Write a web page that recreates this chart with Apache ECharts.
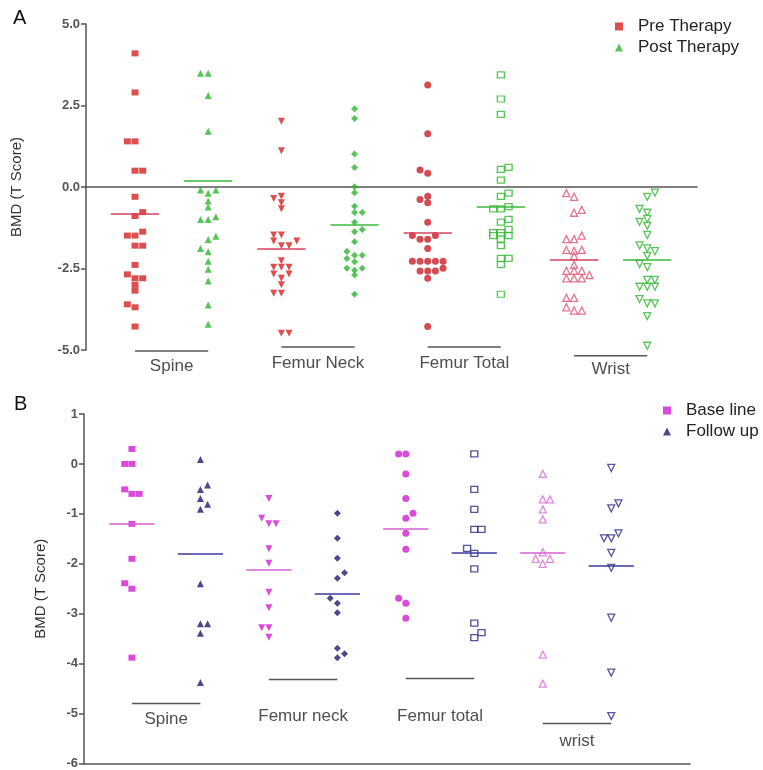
<!DOCTYPE html>
<html><head><meta charset="utf-8">
<script src="https://cdn.jsdelivr.net/npm/echarts/dist/echarts.min.js"></script>
<style>html,body{margin:0;padding:0;background:#fff}#c{width:763px;height:770px}</style>
</head><body><div id="c"></div>
<script>
// ---------- DATA ----------
const groupsA = ['Spine', 'Femur Neck', 'Femur Total', 'Wrist'];
const groupsB = ['Spine', 'Femur neck', 'Femur total', 'wrist'];
const namesA = ['Pre Therapy', 'Post Therapy'];
const namesB = ['Base line', 'Follow up'];

// Panel A values (T score) and horizontal slot of each dot (jitter)
const aSpinePre   = [4.1,2.9,1.4,1.4,0.5,0.5,-0.3,-0.89,-0.77,-1.49,-1.49,-1.37,-1.8,-1.8,-2.39,-2.68,-2.8,-2.8,-3.0,-3.18,-3.6,-3.69,-4.28];
const aSpinePreJ  = [0,0,-1,0,0,1,0,0,1,-1,0,1,0,1,0,-1,0,1,0,0,-1,0,0];
const aSpinePost  = [3.49,3.49,2.81,1.71,-0.09,-0.19,-0.09,-0.43,-0.61,-1.0,-1.0,-0.91,-1.61,-1.51,-1.89,-1.99,-2.28,-2.52,-2.88,-3.62,-4.21];
const aSpinePostJ = [-1,0,0,0,-1,0,1,0,0,-1,0,1,0,1,-1,0,0,0,0,0,0];
const aNeckPre    = [2.02,1.11,-0.35,-0.28,-0.48,-0.67,-1.47,-1.47,-1.66,-1.8,-1.8,-1.66,-2.26,-2.46,-2.46,-2.46,-2.67,-2.8,-2.67,-3.0,-3.26,-3.26,-4.49,-4.49];
const aNeckPreJ   = [0,0,-1,0,0,0,-1,0,-1,0,1,2,0,-1,0,1,-1,0,1,0,-1,0,0,1];
const aNeckPost   = [2.4,2.1,1.01,0.6,0.01,-0.18,-0.59,-0.78,-0.78,-1.08,-1.37,-1.3,-1.68,-1.98,-2.09,-2.09,-2.19,-2.29,-2.49,-2.55,-2.49,-2.7,-3.29];
const aNeckPostJ  = [0,0,0,0,0,0,0,0,1,0,0,1,0,-1,0,1,-1,0,-1,0,1,0,0];
const aTotalPre   = [3.13,1.63,0.52,0.42,-0.38,-0.28,-0.48,-1.08,-1.49,-1.6,-1.6,-1.49,-1.89,-2.28,-2.28,-2.28,-2.28,-2.28,-2.49,-2.58,-2.58,-2.58,-2.8,-4.28];
const aTotalPreJ  = [0,0,-1,0,-1,0,0,0,-2,-1,0,1,0,-2,-1,0,1,2,2,-1,0,1,0,0];
const aTotalPost  = [3.44,2.7,2.23,0.54,0.6,0.21,-0.29,-0.19,-0.67,-0.67,-0.6,-1.08,-0.99,-1.3,-1.4,-1.4,-1.49,-1.49,-1.49,-1.6,-1.8,-2.19,-2.19,-2.38,-3.29];
const aTotalPostJ = [0,0,0,0,1,0,0,1,-1,0,1,0,1,1,-1,0,-1,0,1,0,0,0,1,0,0];
const aWristPre   = [-0.19,-0.3,-0.79,-0.7,-1.6,-1.6,-1.49,-1.93,-1.96,-1.93,-2.12,-2.39,-2.57,-2.57,-2.57,-2.8,-2.8,-2.8,-2.7,-3.4,-3.4,-3.69,-3.79,-3.79];
const aWristPreJ  = [-1,0,0,1,-1,0,1,-1,0,1,0,0,-1,0,1,-1,0,1,2,-1,0,-1,0,1];
const aWristPost  = [-0.3,-0.17,-0.67,-0.79,-0.98,-1.07,-1.19,-1.47,-1.79,-1.88,-1.97,-2.11,-2.36,-2.46,-2.85,-2.85,-3.06,-3.06,-3.06,-3.44,-3.57,-3.57,-3.96,-4.87];
const aWristPostJ = [0,1,-1,0,0,-1,0,0,-1,0,1,0,-1,0,0,1,-1,0,1,-1,0,1,0,0];
const aMeans = [-0.83, 0.18, -1.90, -1.17, -1.41, -0.61, -2.24, -2.24];

// Panel B
const bSpineBase    = [0.3,0,0,-0.51,-0.6,-0.6,-1.2,-1.9,-2.39,-2.5,-3.88];
const bSpineBaseJ   = [0,-1,0,-1,0,1,0,0,-1,0,0];
const bSpineFollow  = [0.09,-0.42,-0.51,-0.69,-0.81,-0.91,-2.4,-3.2,-3.2,-3.39,-4.38];
const bSpineFollowJ = [0,1,0,0,1,0,0,0,1,0,0];
const bNeckBase     = [-0.69,-1.09,-1.2,-1.2,-1.7,-1.99,-2.57,-2.88,-3.28,-3.28,-3.47];
const bNeckBaseJ    = [0,-1,0,1,0,0,0,0,-1,0,0];
const bNeckFollow   = [-0.99,-1.49,-1.89,-2.29,-2.18,-2.69,-2.79,-2.98,-3.69,-3.8,-3.88];
const bNeckFollowJ  = [0,0,0,0,1,-1,0,0,0,1,0];
const bTotalBase    = [0.2,0.2,-0.2,-0.69,-0.99,-1.09,-1.39,-1.71,-2.69,-2.79,-3.09];
const bTotalBaseJ   = [-1,0,0,0,1,0,0,0,-1,0,0];
const bTotalFollow  = [0.2,-0.51,-0.91,-1.31,-1.31,-1.69,-1.79,-2.1,-3.19,-3.48,-3.38];
const bTotalFollowJ = [0,0,0,0,1,-1,0,0,0,0,1];
const bWristBase    = [-0.2,-0.71,-0.71,-0.91,-1.11,-1.77,-1.9,-1.9,-2.0,-3.82,-4.4];
const bWristBaseJ   = [0,0,1,0,0,0,-1,1,0,0,0];
const bWristFollow  = [-0.08,-0.89,-0.79,-1.49,-1.49,-1.39,-1.78,-2.08,-3.08,-4.18,-5.05];
const bWristFollowJ = [0,0,1,-1,0,1,0,0,0,0,0];
const bMeans = [-1.20, -1.79, -2.12, -2.60, -1.30, -1.77, -1.77, -2.04];

// ---------- LAYOUT / STYLE ----------
const FONT = "'Liberation Sans', Arial, sans-serif";
const SLOT = 0.105;     // horizontal spacing between side-by-side dots (axis units)
const MEAN_HALF = 0.33; // half width of mean bar (axis units)
const bracketLvlA = [-5.03, -4.91, -4.91, -5.18];
const labelLvlA   = [-5.50, -5.40, -5.40, -5.60];
const bracketLvlB = [-4.80, -4.32, -4.30, -5.20];
const labelLvlB   = [-5.12, -5.06, -5.06, -5.55];

const RED = '#d42222', GREEN = '#2fb52f', PINK = '#e0506e';
const MAG = '#d21ed2', NAVY = '#1c1c6e', LMAG = '#d96ad9';

const colsA = [
  {name:namesA[0], v:aSpinePre,  j:aSpinePreJ,  sym:'rect',     c:RED},
  {name:namesA[1], v:aSpinePost, j:aSpinePostJ, sym:'triangle', c:GREEN},
  {name:'A3', v:aNeckPre,  j:aNeckPreJ,  sym:'triangle', rot:180, c:RED},
  {name:'A4', v:aNeckPost, j:aNeckPostJ, sym:'diamond',  c:GREEN},
  {name:'A5', v:aTotalPre, j:aTotalPreJ, sym:'circle',   c:'#c81e28'},
  {name:'A6', v:aTotalPost,j:aTotalPostJ,sym:'rect',     c:GREEN, open:true},
  {name:'A7', v:aWristPre, j:aWristPreJ, sym:'triangle', c:PINK, open:true},
  {name:'A8', v:aWristPost,j:aWristPostJ,sym:'triangle', rot:180, c:GREEN, open:true}
];
const meanColA = ['#d8405e', '#3cb83c'];
const colsB = [
  {name:namesB[0], v:bSpineBase,  j:bSpineBaseJ,  sym:'rect',     c:MAG},
  {name:namesB[1], v:bSpineFollow,j:bSpineFollowJ,sym:'triangle', c:NAVY},
  {name:'B3', v:bNeckBase,   j:bNeckBaseJ,   sym:'triangle', rot:180, c:MAG},
  {name:'B4', v:bNeckFollow, j:bNeckFollowJ, sym:'diamond',  c:NAVY},
  {name:'B5', v:bTotalBase,  j:bTotalBaseJ,  sym:'circle',   c:MAG},
  {name:'B6', v:bTotalFollow,j:bTotalFollowJ,sym:'rect',     c:'#2a2a80', open:true},
  {name:'B7', v:bWristBase,  j:bWristBaseJ,  sym:'triangle', c:LMAG, open:true},
  {name:'B8', v:bWristFollow,j:bWristFollowJ,sym:'triangle', rot:180, c:'#2a2a80', open:true}
];
const meanColB = ['#d45ed4', '#3a3aa0'];

function panelSeries(cols, means, meanCols, groups, brLvl, lbLvl, g) {
  const out = [];
  cols.forEach((col, i) => {
    const pos = i + 1;
    out.push({
      type: 'scatter', name: col.name, xAxisIndex: g, yAxisIndex: g, silent: true,
      data: col.v.map((y, k) => [pos + col.j[k] * SLOT, y]),
      symbol: col.sym, symbolSize: col.sym === 'rect' ? [7, 6] : 7, symbolRotate: col.rot || 0,
      itemStyle: col.open ? {color: '#fff', borderColor: col.c, borderWidth: 1.3} : {color: col.c},
      markLine: {
        silent: true, animation: false, symbol: ['none', 'none'], label: {show: false},
        lineStyle: {color: meanCols[i % 2], width: 1.5, type: 'solid'},
        emphasis: {disabled: true},
        data: [[{coord: [pos - MEAN_HALF, means[i]]}, {coord: [pos + MEAN_HALF, means[i]]}]]
      }
    });
  });
  groups.forEach((gName, k) => {
    out.push({
      type: 'line', xAxisIndex: g, yAxisIndex: g, clip: false, silent: true, symbol: 'none',
      lineStyle: {color: '#555', width: 1.5},
      data: [[2 * k + 1, brLvl[k]], [2 * k + 2, brLvl[k]]]
    });
  });
  out.push({
    type: 'scatter', xAxisIndex: g, yAxisIndex: g, clip: false, silent: true,
    symbolSize: 1, itemStyle: {color: 'rgba(0,0,0,0)'},
    label: {show: true, position: 'inside', formatter: '{b}', fontSize: 17, color: '#222', fontFamily: FONT},
    data: groups.map((gName, k) => ({name: gName, value: [2 * k + 1.5, lbLvl[k]]}))
  });
  return out;
}

const axisLineStyle = {color: '#555', width: 1.5};
const yLabel = {fontSize: 13, color: '#555', fontWeight: 'bold', fontFamily: FONT, margin: 6};

const option = {
  animation: false,
  backgroundColor: '#fff',
  textStyle: {fontFamily: FONT},
  grid: [
    {left: 86, top: 24, width: 611, height: 326},
    {left: 84, top: 414, width: 606, height: 351}
  ],
  xAxis: [
    {gridIndex: 0, type: 'value', min: 0.33, max: 8.68,
     axisLine: {show: true, onZero: true, lineStyle: axisLineStyle},
     axisTick: {show: false}, axisLabel: {show: false}, splitLine: {show: false}},
    {gridIndex: 1, type: 'value', min: 0.30, max: 9.15,
     axisLine: {show: true, onZero: false, lineStyle: axisLineStyle},
     axisTick: {show: false}, axisLabel: {show: false}, splitLine: {show: false}}
  ],
  yAxis: [
    {gridIndex: 0, type: 'value', min: -5, max: 5, interval: 2.5,
     axisLine: {show: true, lineStyle: axisLineStyle},
     axisTick: {show: true, length: 5, lineStyle: axisLineStyle},
     axisLabel: Object.assign({formatter: v => v.toFixed(1)}, yLabel),
     splitLine: {show: false},
     name: 'BMD (T Score)', nameLocation: 'middle', nameGap: 62, nameRotate: 90,
     nameTextStyle: {fontSize: 15, color: '#333', fontFamily: FONT}},
    {gridIndex: 1, type: 'value', min: -6, max: 1, interval: 1,
     axisLine: {show: true, lineStyle: axisLineStyle},
     axisTick: {show: true, length: 5, lineStyle: axisLineStyle},
     axisLabel: yLabel,
     splitLine: {show: false},
     name: 'BMD (T Score)', nameLocation: 'middle', nameGap: 36, nameRotate: 90,
     nameTextStyle: {fontSize: 15, color: '#333', fontFamily: FONT}}
  ],
  legend: [
    {data: namesA, orient: 'vertical', left: 610, top: 13, itemWidth: 8, itemHeight: 8, itemGap: 4,
     selectedMode: false, textStyle: {fontSize: 17, color: '#222', fontFamily: FONT, padding: [0, 0, 0, 10]}},
    {data: namesB, orient: 'vertical', left: 658, top: 397, itemWidth: 8, itemHeight: 8, itemGap: 4,
     selectedMode: false, textStyle: {fontSize: 17, color: '#222', fontFamily: FONT, padding: [0, 0, 0, 10]}}
  ],
  graphic: [
    {type: 'text', left: 13, top: 8, style: {text: 'A', fontSize: 20, fill: '#111', fontFamily: FONT}},
    {type: 'text', left: 14, top: 394, style: {text: 'B', fontSize: 20, fill: '#111', fontFamily: FONT}}
  ],
  series: [].concat(
    panelSeries(colsA, aMeans, meanColA, groupsA, bracketLvlA, labelLvlA, 0),
    panelSeries(colsB, bMeans, meanColB, groupsB, bracketLvlB, labelLvlB, 1)
  )
};

const chart = echarts.init(document.getElementById('c'), null, {renderer: 'canvas'});
chart.setOption(option);
</script></body></html>
